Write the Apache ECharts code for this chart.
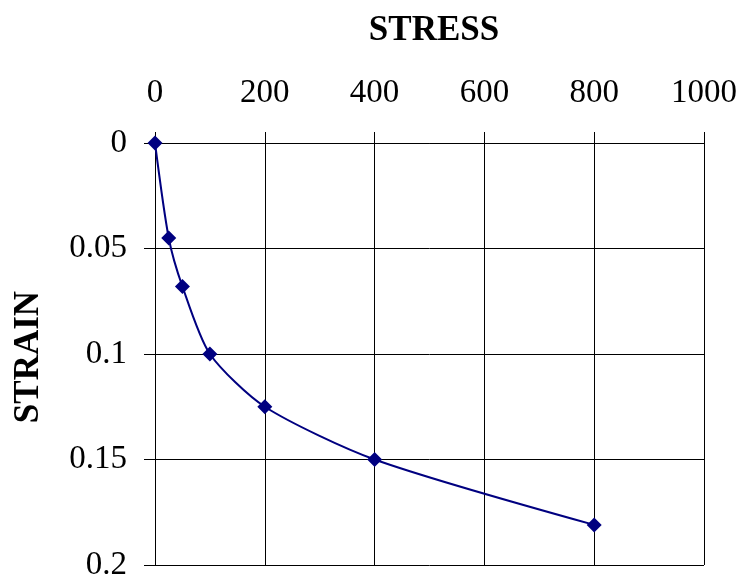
<!DOCTYPE html>
<html><head><meta charset="utf-8">
<script src="https://cdn.jsdelivr.net/npm/echarts@6/dist/echarts.min.js"></script>
<style>html,body{margin:0;padding:0;background:#fff}#c{width:741px;height:586px}</style>
</head><body><div id="c"></div>
<script>
const stress = [0, 25, 50, 100, 200, 400, 800];
const strain = [0, 0.045, 0.068, 0.1, 0.125, 0.15, 0.181];
const xTitle = 'STRESS';
const yTitle = 'STRAIN';

const chart = echarts.init(document.getElementById('c'));
const font = '"Liberation Serif", "Times New Roman", serif';
chart.setOption({
  animation: false,
  backgroundColor: '#fff',
  grid: { left: 155, right: 37, top: 143, bottom: 21 },
  title: [
    { text: xTitle, left: 429, top: 8, textAlign: 'center',
      textStyle: { fontFamily: font, fontSize: 35, fontWeight: 'bold', color: '#000' } }
  ],
  graphic: [{
    type: 'text', x: 29, y: 357, rotation: Math.PI / 2,
    style: { text: yTitle, font: 'bold 35px ' + font, fill: '#000', align: 'center', verticalAlign: 'middle' }
  }],
  xAxis: {
    type: 'value', position: 'top', min: 0, max: 1000, interval: 200,
    axisLine: { show: true, lineStyle: { color: '#000', width: 1 } },
    axisTick: { show: true, length: 11, lineStyle: { color: '#000' } },
    axisLabel: { fontFamily: font, fontSize: 33, color: '#000', margin: 33,
      formatter: v => String(v) },
    splitLine: { show: true, lineStyle: { color: '#000', width: 1 } }
  },
  yAxis: {
    type: 'value', inverse: true, min: 0, max: 0.2, interval: 0.05,
    axisLine: { show: true, lineStyle: { color: '#000', width: 1 } },
    axisTick: { show: true, length: 11, lineStyle: { color: '#000' } },
    axisLabel: { fontFamily: font, fontSize: 33, color: '#000', margin: 28,
      formatter: v => String(+v.toFixed(2)), padding: [8, 0, 0, 0] },
    splitLine: { show: true, lineStyle: { color: '#000', width: 1 } }
  },
  series: [{
    type: 'line', smooth: 0.25,
    data: stress.map((s, i) => [s, strain[i]]),
    symbol: 'diamond', symbolSize: 15,
    lineStyle: { color: '#000080', width: 2 },
    itemStyle: { color: '#000080' }
  }]
});
</script></body></html>
